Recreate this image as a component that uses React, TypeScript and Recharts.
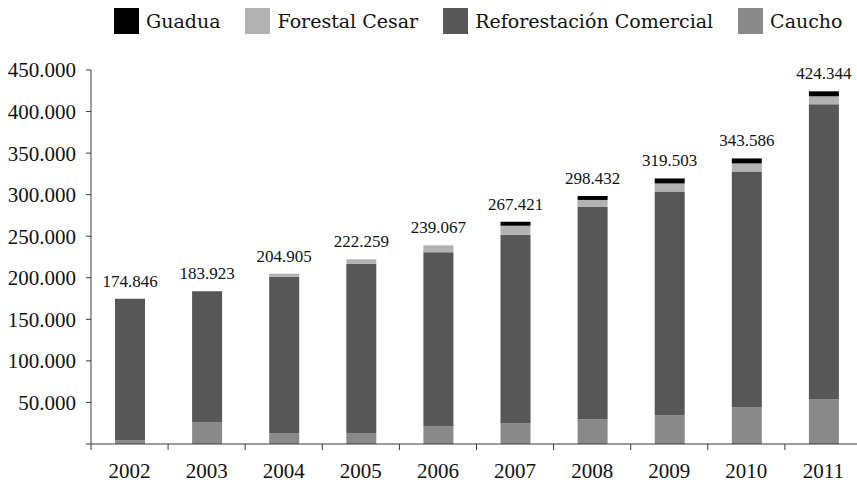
import { BarChart, Bar, XAxis, YAxis, LabelList } from 'recharts'

const years = ['2002', '2003', '2004', '2005', '2006', '2007', '2008', '2009', '2010', '2011']
const caucho = [4200, 25800, 12600, 12600, 21000, 24600, 29400, 34200, 43800, 53400]
const reforestacion = [170646, 158123, 188705, 204059, 209667, 227221, 255832, 269703, 284186, 355344]
const forestalCesar = [0, 0, 3600, 5600, 8400, 10800, 8400, 9600, 9600, 9600]
const guadua = [0, 0, 0, 0, 0, 4800, 4800, 6000, 6000, 6000]
const totals = [174846, 183923, 204905, 222259, 239067, 267421, 298432, 319503, 343586, 424344]
const yTicks = [0, 50000, 100000, 150000, 200000, 250000, 300000, 350000, 400000, 450000]

const data = years.map((year, i) => ({
    year,
    caucho: caucho[i],
    reforestacion: reforestacion[i],
    forestalCesar: forestalCesar[i],
    guadua: guadua[i],
    total: totals[i],
}))

const legendItems = [
    { name: 'Guadua', color: '#000000' },
    { name: 'Forestal Cesar', color: '#b2b2b2' },
    { name: 'Reforestación Comercial', color: '#575757' },
    { name: 'Caucho', color: '#898989' },
]

const CHART_W = 870
const CHART_H = 482
const Y_AXIS_W = 91
const MARGIN_R = 8
const BAND = (CHART_W - Y_AXIS_W - MARGIN_R) / years.length
const AXIS = '#3a3a3a'
const NUM_FONT = '"Liberation Serif", serif'
const TEXT_FONT = '"DejaVu Serif", serif'

const formatThousands = (value: number) =>
    value.toString().replace(/\B(?=(\d{3})+(?!\d))/g, '.')

// total label goes on the topmost segment that is not empty
const labelOnGuadua = (d: any) => (d.guadua > 0 ? d.total : null)
const labelOnForestal = (d: any) => (d.guadua === 0 && d.forestalCesar > 0 ? d.total : null)
const labelOnReforestacion = (d: any) => (d.guadua === 0 && d.forestalCesar === 0 ? d.total : null)

const YearTick = (props: any) => {
    const { x, y, payload } = props
    return (
        <g>
            <line x1={x - BAND / 2} x2={x - BAND / 2} y1={y} y2={y + 6} stroke={AXIS} />
            <text x={x} y={y + 34} textAnchor="middle" fontSize={21} fontFamily={NUM_FONT} fill="#111">
                {payload.value}
            </text>
        </g>
    )
}

const TotalLabel = (props: any) => {
    const { x, y, width, value } = props
    if (value == null) return null
    return (
        <text x={x + width / 2} y={y - 12} textAnchor="middle" fontSize={17} fontFamily={NUM_FONT} fill="#111">
            {formatThousands(value)}
        </text>
    )
}

export default function App() {
    return (
        <div style={{ position: 'absolute', left: 0, top: 0, width: 857, height: 482, overflow: 'hidden', background: '#fff' }}>
            <div
                style={{
                    position: 'absolute',
                    left: 114,
                    top: 8,
                    display: 'flex',
                    alignItems: 'center',
                    fontFamily: TEXT_FONT,
                    fontSize: 19,
                    color: '#111',
                    whiteSpace: 'nowrap',
                }}
            >
                {legendItems.map((item) => (
                    <div key={item.name} style={{ display: 'flex', alignItems: 'center', marginRight: 25 }}>
                        <span style={{ display: 'inline-block', width: 25, height: 26, background: item.color, marginRight: 7 }} />
                        <span>{item.name}</span>
                    </div>
                ))}
            </div>
            <BarChart
                width={CHART_W}
                height={CHART_H}
                data={data}
                margin={{ top: 70, right: MARGIN_R, left: 0, bottom: 0 }}
            >
                <XAxis
                    dataKey="year"
                    height={38}
                    tickLine={false}
                    tickSize={0}
                    tickMargin={0}
                    axisLine={{ stroke: AXIS }}
                    tick={<YearTick />}
                    interval={0}
                />
                <YAxis
                    width={Y_AXIS_W}
                    domain={[0, 450000]}
                    ticks={yTicks}
                    interval={0}
                    tickSize={5}
                    tickMargin={10}
                    axisLine={{ stroke: AXIS }}
                    tickLine={{ stroke: AXIS }}
                    tickFormatter={(v: number) => (v === 0 ? '' : formatThousands(v))}
                    tick={{ fill: '#111', fontSize: 21, fontFamily: NUM_FONT }}
                />
                <Bar dataKey="caucho" stackId="a" fill="#898989" barSize={30} isAnimationActive={false} />
                <Bar dataKey="reforestacion" stackId="a" fill="#575757" barSize={30} isAnimationActive={false}>
                    <LabelList dataKey={labelOnReforestacion} content={<TotalLabel />} />
                </Bar>
                <Bar dataKey="forestalCesar" stackId="a" fill="#b2b2b2" barSize={30} isAnimationActive={false}>
                    <LabelList dataKey={labelOnForestal} content={<TotalLabel />} />
                </Bar>
                <Bar dataKey="guadua" stackId="a" fill="#000000" barSize={30} isAnimationActive={false}>
                    <LabelList dataKey={labelOnGuadua} content={<TotalLabel />} />
                </Bar>
            </BarChart>
        </div>
    )
}
